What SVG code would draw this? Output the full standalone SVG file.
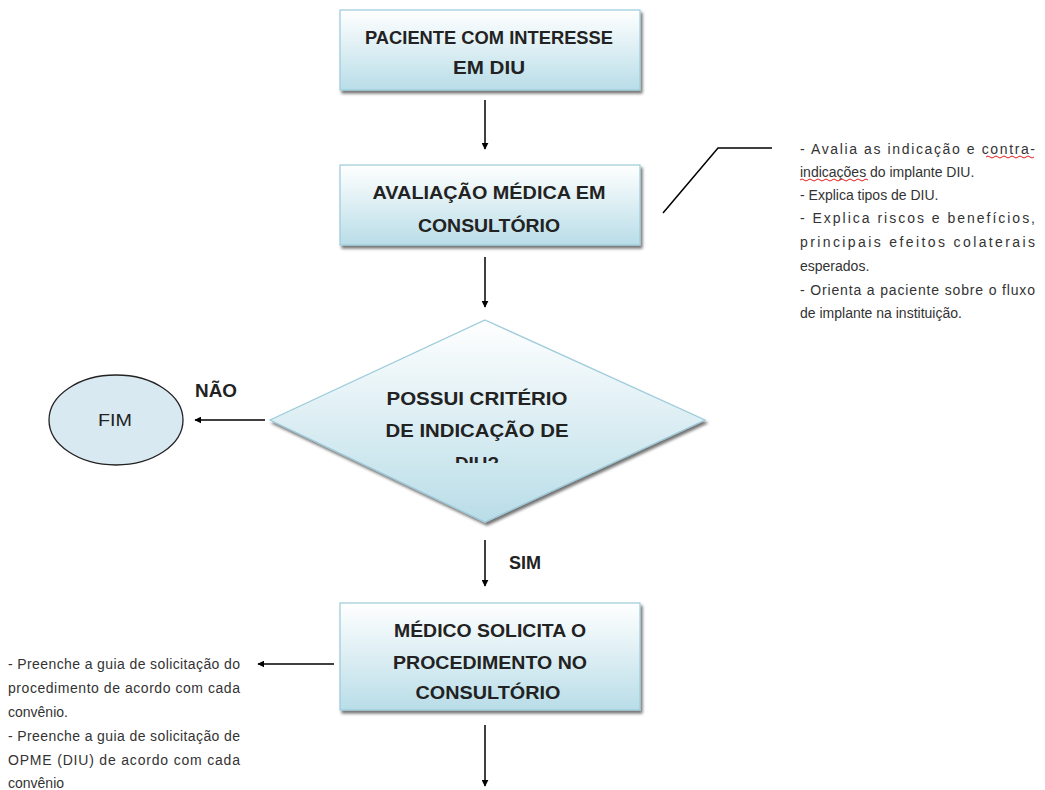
<svg xmlns="http://www.w3.org/2000/svg" width="1045" height="790" viewBox="0 0 1045 790">
<defs>
<linearGradient id="g" x1="0" y1="0" x2="0" y2="1">
<stop offset="0" stop-color="#ffffff"/>
<stop offset="1" stop-color="#b9dde8"/>
</linearGradient>
<filter id="sh" x="-10%" y="-10%" width="120%" height="130%">
<feGaussianBlur in="SourceAlpha" stdDeviation="1.5"/>
<feOffset dx="2" dy="3" result="b"/>
<feComponentTransfer><feFuncA type="linear" slope="0.55"/></feComponentTransfer>
<feMerge><feMergeNode/><feMergeNode in="SourceGraphic"/></feMerge>
</filter>
<marker id="ah" viewBox="0 0 10 10" refX="9" refY="5" markerWidth="7" markerHeight="7" orient="auto" markerUnits="userSpaceOnUse">
<path d="M0,0 L10,5 L0,10 z" fill="#000"/>
</marker>
<clipPath id="dclip"><rect x="260" y="300" width="460" height="163"/></clipPath>
</defs>
<style>
.box{fill:url(#g);stroke:#9ccbdb;stroke-width:1.2;filter:url(#sh)}
.t{font-family:"Liberation Sans",Arial,sans-serif;font-weight:bold;font-size:19px;fill:#222;text-anchor:middle}
.n{font-family:"Liberation Sans",Arial,sans-serif;font-size:14px;fill:#333}
.c{stroke:#000;stroke-width:1.5;fill:none}
</style>
<rect width="1045" height="790" fill="#fff"/>

<g id="n1">
<rect class="box" x="340" y="10" width="300" height="80"/>
<text class="t" x="489" y="44" textLength="248" lengthAdjust="spacingAndGlyphs">PACIENTE COM INTERESSE</text>
<text class="t" x="489" y="74" textLength="72" lengthAdjust="spacingAndGlyphs">EM DIU</text>
</g>

<g id="n2">
<rect class="box" x="340" y="165" width="300" height="80"/>
<text class="t" x="489" y="199" textLength="233" lengthAdjust="spacingAndGlyphs">AVALIAÇÃO MÉDICA EM</text>
<text class="t" x="489" y="232" textLength="142" lengthAdjust="spacingAndGlyphs">CONSULTÓRIO</text>
</g>

<g id="n3">
<polygon class="box" points="485,320 705,420 485,522 270,420"/>
<g clip-path="url(#dclip)">
<text class="t" x="477" y="405" textLength="181" lengthAdjust="spacingAndGlyphs">POSSUI CRITÉRIO</text>
<text class="t" x="477" y="437" textLength="183" lengthAdjust="spacingAndGlyphs">DE INDICAÇÃO DE</text>
<text class="t" x="477" y="470" textLength="44" lengthAdjust="spacingAndGlyphs">DIU?</text>
</g>
</g>

<g id="n4">
<ellipse cx="116" cy="420" rx="67" ry="45" fill="#d8e9f1" stroke="#222" stroke-width="1.3"/>
<text x="115" y="426" font-family="Liberation Sans, Arial, sans-serif" font-size="17" fill="#222" text-anchor="middle" textLength="34" lengthAdjust="spacingAndGlyphs">FIM</text>
</g>

<g id="n5">
<rect class="box" x="340" y="603" width="300" height="107"/>
<text class="t" x="490" y="637" textLength="192" lengthAdjust="spacingAndGlyphs">MÉDICO SOLICITA O</text>
<text class="t" x="490" y="669" textLength="194" lengthAdjust="spacingAndGlyphs">PROCEDIMENTO NO</text>
<text class="t" x="488" y="699" textLength="145" lengthAdjust="spacingAndGlyphs">CONSULTÓRIO</text>
</g>

<g id="note1">
<text class="n" x="800" y="154" textLength="235" lengthAdjust="spacing">- Avalia as indicação e contra-</text>
<text class="n" x="800" y="177">indicações do implante DIU.</text>
<text class="n" x="800" y="200">- Explica tipos de DIU.</text>
<text class="n" x="800" y="223" textLength="235" lengthAdjust="spacing">- Explica riscos e benefícios,</text>
<text class="n" x="800" y="247" textLength="235" lengthAdjust="spacing">principais efeitos colaterais</text>
<text class="n" x="800" y="271">esperados.</text>
<text class="n" x="800" y="295" textLength="235" lengthAdjust="spacing">- Orienta a paciente sobre o fluxo</text>
<text class="n" x="800" y="318">de implante na instituição.</text>
<path d="M986,157 q2,-2 4,0 t4,0 t4,0 t4,0 t4,0 t4,0 t4,0 t4,0 t4,0 t4,0 t4,0 t4,0" fill="none" stroke="#e02020" stroke-width="1"/>
<path d="M800,180 q2,-2 4,0 t4,0 t4,0 t4,0 t4,0 t4,0 t4,0 t4,0 t4,0 t4,0 t4,0 t4,0 t4,0 t4,0 t4,0 t4,0 t4,0" fill="none" stroke="#e02020" stroke-width="1"/>
</g>

<g id="note2">
<text class="n" x="8" y="669" textLength="232" lengthAdjust="spacing">- Preenche a guia de solicitação do</text>
<text class="n" x="8" y="693" textLength="232" lengthAdjust="spacing">procedimento de acordo com cada</text>
<text class="n" x="8" y="717">convênio.</text>
<text class="n" x="8" y="741" textLength="232" lengthAdjust="spacing">- Preenche a guia de solicitação de</text>
<text class="n" x="8" y="765" textLength="232" lengthAdjust="spacing">OPME (DIU) de acordo com cada</text>
<text class="n" x="8" y="788">convênio</text>
</g>

<g id="connectors">
<line class="c" x1="485" y1="100" x2="485" y2="149" marker-end="url(#ah)"/>
<line class="c" x1="485" y1="257" x2="485" y2="307" marker-end="url(#ah)"/>
<line class="c" x1="265" y1="420" x2="195" y2="420" marker-end="url(#ah)"/>
<line class="c" x1="485" y1="540" x2="485" y2="586" marker-end="url(#ah)"/>
<line class="c" x1="334" y1="664" x2="258" y2="664" marker-end="url(#ah)"/>
<line class="c" x1="485" y1="725" x2="485" y2="786" marker-end="url(#ah)"/>
<polyline class="c" points="663,213 718,148 772,148"/>
<text x="216" y="397" font-family="Liberation Sans, Arial, sans-serif" font-weight="bold" font-size="18" fill="#222" text-anchor="middle" textLength="42" lengthAdjust="spacingAndGlyphs">NÃO</text>
<text x="525" y="569" font-family="Liberation Sans, Arial, sans-serif" font-weight="bold" font-size="18" fill="#222" text-anchor="middle" textLength="32" lengthAdjust="spacingAndGlyphs">SIM</text>
</g>
</svg>
